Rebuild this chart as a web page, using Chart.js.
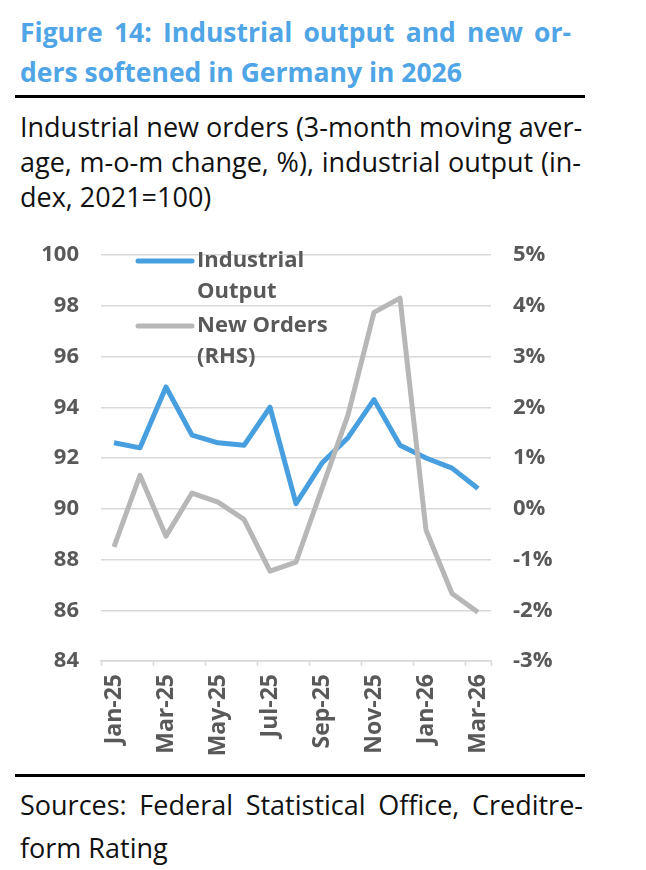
<!DOCTYPE html>
<html>
<head>
<meta charset="utf-8">
<script src="https://cdn.jsdelivr.net/npm/chart.js@4.4.1/dist/chart.umd.min.js"></script>
<style>
  body { margin: 0; background: #fff; font-family: "Open Sans", sans-serif; }
  .page { position: relative; width: 646px; height: 870px; overflow: hidden; }
  .title { position: absolute; left: 20px; top: 12px; width: 551px; color: #4fa5e5;
           font-weight: bold; font-size: 26.5px; line-height: 40px; }
  .sub { position: absolute; left: 20px; top: 109px; width: 561px; color: #111;
         font-size: 27px; line-height: 35px; }
  .src { position: absolute; left: 20px; top: 783px; width: 563px; color: #111;
         font-size: 27px; line-height: 43px; }
  .j { text-align: justify; text-align-last: justify; white-space: nowrap; }
  .rule { position: absolute; left: 15px; width: 570px; height: 3px; background: #000; }
  .chartbox { position: absolute; left: 0; top: 230px; width: 646px; height: 540px; }
</style>
</head>
<body>
<div class="page">
  <div class="title">
    <div class="j">Figure 14: Industrial output and new or-</div>
    <div>ders softened in Germany in 2026</div>
  </div>
  <div class="rule" style="top:95px"></div>
  <div class="sub">
    <div class="j">Industrial new orders (3-month moving aver-</div>
    <div class="j">age, m-o-m change, %), industrial output (in-</div>
    <div>dex, 2021=100)</div>
  </div>
  <div class="chartbox"><canvas id="chart-line"></canvas></div>
  <div class="rule" style="top:774px"></div>
  <div class="src">
    <div class="j">Sources: Federal Statistical Office, Creditre-</div>
    <div>form Rating</div>
  </div>
</div>
<script>
var months = ['Jan-25', 'Feb-25', 'Mar-25', 'Apr-25', 'May-25', 'Jun-25', 'Jul-25', 'Aug-25',
              'Sep-25', 'Oct-25', 'Nov-25', 'Dec-25', 'Jan-26', 'Feb-26', 'Mar-26'];
var output = [92.6, 92.4, 94.8, 92.9, 92.6, 92.5, 94.0, 90.2, 91.8, 92.8, 94.3, 92.5, 92.0, 91.6, 90.8];
var orders = [-0.75, 0.66, -0.54, 0.31, 0.13, -0.21, -1.23, -1.05, 0.4, 1.85, 3.87, 4.15, -0.42, -1.67, -2.04];
var legendText = [['Industrial', 'Output'], ['New Orders', '(RHS)']];

var tickFont = { family: 'Open Sans', weight: 'bold', size: 22 };
var xFont = { family: 'Open Sans', weight: 'bold', size: 23 };
var tickColor = '#595959';
var gridColor = '#d9d9d9';

// legend sits inside the plot, top left, with wrapped labels
var innerLegend = {
    id: 'innerLegend',
    afterDraw: function (chart) {
        var c = chart.ctx, a = chart.chartArea;
        c.save();
        c.font = 'bold 22px "Open Sans"';
        c.textBaseline = 'middle';
        c.fillStyle = tickColor;
        chart.data.datasets.forEach(function (ds, i) {
            var y = a.top + 6 + i * 65;
            c.strokeStyle = ds.borderColor;
            c.lineWidth = 5;
            c.lineCap = 'round';
            c.beginPath();
            c.moveTo(a.left + 37, y);
            c.lineTo(a.left + 91, y);
            c.stroke();
            legendText[i].forEach(function (t, k) {
                c.fillText(t, a.left + 96, y + k * 31);
            });
        });
        c.restore();
    }
};

function fitY(w) {
    return function (s) { s.width = w; s.paddingTop = 0; s.paddingBottom = 0; };
}

var ctx = document.getElementById('chart-line');
var myLineChart = new Chart(ctx, {
    type: 'line',
    plugins: [innerLegend],
    data: {
        labels: months,
        datasets: [{
            label: 'Industrial Output',
            data: output,
            yAxisID: 'y',
            borderColor: '#489fdf',
            borderWidth: 5,
            pointRadius: 0,
            tension: 0,
            borderJoinStyle: 'round',
            order: 1
        }, {
            label: 'New Orders (RHS)',
            data: orders,
            yAxisID: 'y1',
            borderColor: '#b7b7b7',
            borderWidth: 5,
            pointRadius: 0,
            tension: 0,
            borderJoinStyle: 'round',
            order: 0
        }]
    },
    options: {
        responsive: true,
        maintainAspectRatio: false,
        animation: false,
        devicePixelRatio: 1,
        layout: { padding: { top: 25, left: 0, right: 0, bottom: 0 } },
        plugins: { legend: { display: false }, tooltip: { enabled: false } },
        scales: {
            x: {
                offset: true,
                afterFit: function (s) { s.height = 109; s.paddingLeft = 0; s.paddingRight = 0; },
                grid: {
                    offset: true,
                    drawOnChartArea: false,
                    drawTicks: true,
                    tickLength: 5,
                    tickColor: function (c) { return c.index % 2 ? 'rgba(0,0,0,0)' : gridColor; },
                    tickWidth: 1.5
                },
                border: { display: true, color: gridColor, width: 1.5 },
                ticks: {
                    autoSkip: false,
                    minRotation: 90,
                    maxRotation: 90,
                    padding: 8,
                    font: xFont,
                    color: tickColor,
                    callback: function (v, i) { return i % 2 ? '' : months[i]; }
                }
            },
            y: {
                position: 'left',
                min: 84,
                max: 100,
                afterFit: fitY(101),
                grid: { color: gridColor, lineWidth: 1.5, drawTicks: false },
                border: { display: false },
                ticks: { stepSize: 2, padding: 22, font: tickFont, color: tickColor }
            },
            y1: {
                position: 'right',
                min: -3,
                max: 5,
                afterFit: fitY(155),
                grid: { drawOnChartArea: false, drawTicks: false },
                border: { display: false },
                ticks: {
                    stepSize: 1, padding: 22, font: tickFont, color: tickColor,
                    callback: function (v) { return v + '%'; }
                }
            }
        }
    }
});
</script>
</body>
</html>
